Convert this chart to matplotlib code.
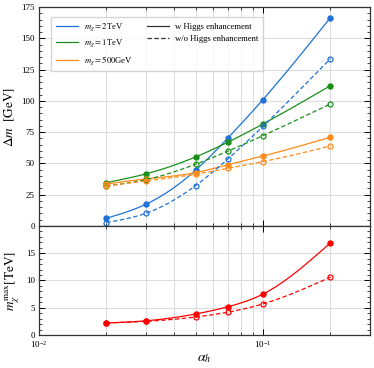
import numpy as np
import matplotlib
matplotlib.use('Agg')
import matplotlib.pyplot as plt
from matplotlib.lines import Line2D
from matplotlib.ticker import MultipleLocator, LogLocator, NullFormatter

plt.rcParams['font.family'] = ['Liberation Serif', 'DejaVu Serif']
plt.rcParams['mathtext.fontset'] = 'stix'
plt.rcParams['font.size'] = 6

alpha = [0.02, 0.03, 0.05, 0.07, 0.1, 0.2]

# delta m [GeV], with / without Higgs enhancement
dm_2tev_w = [6.1, 17.3, 44.5, 70.6, 101.0, 166.5]
dm_2tev_wo = [2.7, 10.1, 32.2, 53.8, 79.6, 133.7]
dm_1tev_w = [34.6, 41.6, 55.1, 67.1, 81.5, 112.1]
dm_1tev_wo = [32.0, 37.0, 49.3, 59.9, 72.2, 97.5]
dm_500_w = [33.5, 37.6, 42.6, 49.0, 55.9, 70.9]
dm_500_wo = [32.0, 36.0, 41.3, 46.1, 51.4, 63.9]

# m_chi max [TeV]
mmax_w = [2.2, 2.6, 3.85, 5.2, 7.5, 16.9]
mmax_wo = [2.2, 2.5, 3.3, 4.2, 5.7, 10.6]

blue = '#1f72d8'
green = '#1a901a'
orange = '#ff8c1a'
red = '#ff0000'


def spline(x, y, xs):
    # natural cubic spline in log10(x), only used to draw the smooth curve
    x = np.log10(np.asarray(x))
    y = np.asarray(y, dtype=float)
    xs = np.log10(xs)
    n = len(x)
    h = np.diff(x)
    A = np.zeros((n, n))
    b = np.zeros(n)
    A[0, 0] = A[-1, -1] = 1
    for i in range(1, n - 1):
        A[i, i - 1] = h[i - 1]
        A[i, i] = 2 * (h[i - 1] + h[i])
        A[i, i + 1] = h[i]
        b[i] = 3 * ((y[i + 1] - y[i]) / h[i] - (y[i] - y[i - 1]) / h[i - 1])
    c = np.linalg.solve(A, b)
    out = np.empty_like(xs)
    for j, xv in enumerate(xs):
        k = min(max(np.searchsorted(x, xv) - 1, 0), n - 2)
        bk = (y[k + 1] - y[k]) / h[k] - h[k] * (2 * c[k] + c[k + 1]) / 3
        dk = (c[k + 1] - c[k]) / (3 * h[k])
        t = xv - x[k]
        out[j] = y[k] + bk * t + c[k] * t**2 + dk * t**3
    return out


xs = np.logspace(np.log10(alpha[0]), np.log10(alpha[-1]), 200)


def draw(ax, y, color, dashed):
    ax.plot(xs, spline(alpha, y, xs), color=color, lw=0.9,
            ls='--' if dashed else '-', dashes=(3.5, 2) if dashed else (None, None))
    if dashed:
        ax.plot(alpha, y, 'o', ms=3.6, mfc='none', mec=color, mew=0.9)
    else:
        ax.plot(alpha, y, 'o', ms=3.6, color=color)


fig = plt.figure(figsize=(3.74, 3.68), dpi=100)
ax1 = fig.add_axes([0.104, 0.386, 0.885, 0.595])
ax2 = fig.add_axes([0.104, 0.0897, 0.885, 0.2963], sharex=ax1)

for y, c in [(dm_2tev_w, blue), (dm_1tev_w, green), (dm_500_w, orange)]:
    draw(ax1, y, c, False)
for y, c in [(dm_2tev_wo, blue), (dm_1tev_wo, green), (dm_500_wo, orange)]:
    draw(ax1, y, c, True)
draw(ax2, mmax_w, red, False)
draw(ax2, mmax_wo, red, True)

ax1.set_xscale('log')
ax1.set_xlim(0.01, 0.3)
ax1.set_ylim(0, 175)
ax2.set_ylim(0, 20)
ax1.yaxis.set_major_locator(MultipleLocator(25))
ax1.yaxis.set_minor_locator(MultipleLocator(5))
ax2.set_yticks([0, 5, 10, 15])
ax2.yaxis.set_minor_locator(MultipleLocator(1))

for ax in (ax1, ax2):
    ax.xaxis.set_minor_locator(LogLocator(base=10, subs=np.arange(2, 10)))
    ax.xaxis.set_minor_formatter(NullFormatter())
    ax.tick_params(which='both', direction='in', top=True, right=True,
                   labelsize=6.5, pad=3)
    ax.tick_params(which='major', length=4, width=0.7)
    ax.tick_params(which='minor', length=2, width=0.5)
    ax.grid(True, which='major', color='#dddddd', lw=0.8)
    ax.grid(True, which='minor', axis='x', color='#dddddd', lw=0.8)
    ax.set_axisbelow(True)
    for s in ax.spines.values():
        s.set_color('#333333')
        s.set_linewidth(0.9)

ax1.tick_params(labelbottom=False)
ax1.set_ylabel(r'$\Delta m\ \ [\mathrm{GeV}]$', fontsize=9.5, labelpad=3)
ax2.set_ylabel(r'$m_\chi^{\mathrm{max}}[\mathrm{TeV}]$', fontsize=9.5, labelpad=3)
ax2.set_xlabel(r'$\alpha_h$', fontsize=10, labelpad=2)

handles = [
    Line2D([], [], color=blue, lw=0.9, label=r'$m_\chi = 2$TeV'),
    Line2D([], [], color=green, lw=0.9, label=r'$m_\chi = 1$TeV'),
    Line2D([], [], color=orange, lw=0.9, label=r'$m_\chi = 500$GeV'),
    Line2D([], [], color='#333333', lw=0.9, ls='-', label='w Higgs enhancement'),
    Line2D([], [], color='#333333', lw=0.9, ls='--', dashes=(3.5, 2),
           label='w/o Higgs enhancement'),
    Line2D([], [], color='none', label=' '),
]
ax1.legend(handles=handles, ncol=2, loc='upper left', fontsize=6.2,
           bbox_to_anchor=(0.025, 0.975), handlelength=2.6, labelspacing=0.55,
           columnspacing=1.6, handletextpad=0.7, fancybox=False,
           framealpha=0.8, edgecolor='#cccccc', borderpad=0.5)

fig.savefig('out.png', dpi=100)
